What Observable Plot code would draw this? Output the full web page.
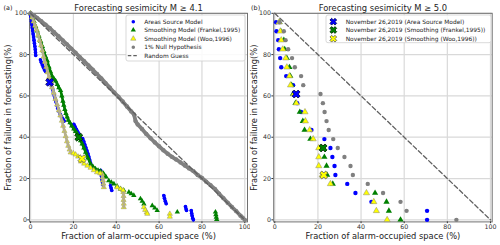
<!DOCTYPE html>
<html><head><meta charset="utf-8">
<script src="https://cdn.jsdelivr.net/npm/d3@7"></script>
<script src="https://cdn.jsdelivr.net/npm/@observablehq/plot@0.6"></script>
<style>
body{margin:0;background:#fff;}
#wrap{display:flex;width:500px;height:245px;overflow:hidden;}
#wrap svg{display:block;flex:none;}
</style></head><body><div id="wrap"></div>
<script>
// ---------- Panel (a): Forecasting sesimicity M >= 4.1 ----------
// [alarm-occupied space %, failure in forecasting %]
const aAreaRuns = [
  [[0,99],[0.2,97.5],[0.4,96],[0.6,94.5],[0.8,93],[1.0,91.5],[1.2,90],[1.4,88.5],[1.6,87],[1.8,85.5],[2.0,84],[2.2,82.5],[2.3,81],[2.4,79.6]],
  [[4.6,77.5],[5.0,76.3],[5.5,75],[6.0,73.8],[6.5,72.6],[7.0,71.8]],
  [[8.8,67.5],[9.3,66],[9.8,64.5],[10.3,63],[10.7,61.5],[11.1,60],[11.5,58.5],[11.9,57],[12.3,55.5],[12.7,54],[13.3,52.5],[13.9,51],[14.5,49.8],[15.1,48.8],[15.7,47.8]],
  [[20.2,46.3],[20.8,45],[21.4,43.8],[22,42.6],[22.6,41.5]],
  [[24.3,39.4],[24.8,38],[25.3,36.5],[25.8,35],[26.3,33.5],[26.8,32],[27.2,30.5],[27.6,29],[28,27.5],[28.5,26.2],[29,25.3]],
  [[32.7,24],[32.9,22.5],[33.1,21],[33.3,19.5],[33.6,18],[33.9,16.8]],
  [[37.3,16.6],[37.6,15.4],[37.9,14.2]],
  [[62.2,11.8],[62.5,10.4],[62.9,9],[63.3,7.8]],
  [[72.3,6.4],[72.6,5.2],[72.8,4.5]],
  [[75,4.5],[75.2,3.2],[75.4,2],[75.7,0.8],[76,0]]
];
const aFrankelRuns = [
  [[0,100],[0.8,98],[1.6,96],[2.4,93.5],[3.1,91.5],[3.9,89],[4.7,86.5],[5.5,84],[6.2,81.5],[7,79],[7.8,77],[8.6,74],[9.3,71.7],[10.1,69.5],[10.9,68.3],[11.7,67.3],[12.5,65.5],[13.2,64],[14,62.6],[14.6,60],[15.1,57.5],[15.5,55.5],[16,53.5],[16.5,51.5],[17.1,49.8],[17.6,48.3],[18.4,47],[19.2,45.5],[20.2,44],[21,42.8],[21.8,41.6],[22.5,40],[23.3,38.3],[24.1,36.8],[24.9,34.8],[25.7,32.7],[26.8,30],[28,27.1],[29.2,25.6],[30.3,24.7],[31.5,24],[32.7,23.5],[34,22.5],[35.2,20.8]]
];
const aFrankelPoints = [[36.5,19],[37.7,18.2],[38.9,17.4],[40.4,16.3],[42,15],[43.5,14.3],[45.9,13.4],[47,12.6],[48.2,11.8],[51.3,10.2],[52.1,9],[52.9,7.7],[56.8,6.9],[58,5.7],[59.1,4.5],[68.5,3.8],[86.3,3.8],[86.5,2.5],[86.7,1.3],[86.9,0.2]];
const aWooRuns = [
  [[0,100],[0.7,98],[1.4,96],[2.1,94],[2.8,92],[3.5,89.5],[4.2,87],[4.9,84.5],[5.5,82],[6.1,79],[6.7,76.5],[7.3,74],[7.9,71.5],[8.6,69],[9.3,66.8],[10,64.2],[10.8,61.5],[11.6,58.5],[12.4,55.8],[13.2,53],[13.9,50.5],[14.6,48],[15.2,45.5],[15.8,43],[16.4,40.5],[17,38],[17.6,35.8],[18.2,34],[18.7,32.6]],
  [[33.4,22.2],[33.6,20.5],[33.8,19],[34,17.5],[34.2,15.8]],
  [[43.3,13.4],[43.4,11.5],[43.4,9.6],[43.5,7.8],[43.5,6.1]]
];
const aWooPoints = [[20,32.2],[21,31.6],[22.2,30.6],[23.5,28.2],[25,27.2],[26.5,26.2],[28,25.2],[29.5,24],[31,23],[32.5,22.5],[40.4,15.8],[42,15],[43.2,14.3],[52.9,6.1],[53.5,4.8],[54.2,3.6],[54.5,2.9],[65,2.9],[65,1.5]];
const aNullRuns = [
  [[0,100],[1.5,99],[3,97.8],[5,96.2],[7,94.5],[9,92.8],[11,90.8],[13,88.9],[15,86.9],[17,84.9],[19,82.9],[21,80.9],[23,78.8],[25,76.8],[27,74.8],[29,72.7],[31,70.6],[33,68.5],[35,66.2],[37,64],[39,61.7],[41,59.6],[43,57.3],[45,54.9],[47,52.5],[48.3,51],[49,47.8],[50,46.2],[52,44],[54,41.6],[56,39.5],[58,37.5],[60,35.6],[62,33.7],[64,32],[66,30.5],[68,29.2],[70,27.8],[72,26.3],[74,24.9],[76,23.6],[78,21.7],[80,20.3],[82,18.5],[84,16.8],[86,15],[88,12.6],[90,10.5],[92,8.3],[94,6.2],[96,4.2],[98,2],[99,1],[100,0]]
];
const aEventX = [8.9, 22.5, 24.0];
const aEventY = [66.6, 40.0, 29.6];

// ---------- Panel (b): Forecasting sesimicity M >= 5.0 ----------
const bFailure  = [95.65, 91.3, 87.0, 82.6, 78.3, 73.9, 69.6, 65.2, 60.9, 56.5, 52.2, 47.8, 43.5, 39.1, 34.8, 30.4, 26.1, 21.7, 17.4, 13.0, 8.7, 4.35, 0];
const bAreaX    = [0.6, 0.8, 1.6, 1.9, 2.5, 3.0, 5.3, 8.5, 9.9, 10.4, 12.2, 13.5, 17.0, 23.0, 25.8, 26.7, 27.7, 28.1, 33.6, 37.4, 44.8, 70.6, 70.6];
const bFrankelX = [2.2, 2.8, 4.2, 4.6, 5.6, 6.8, 7.2, 7.8, 8.4, 9.6, 11.6, 13.0, 13.8, 16.5, 22.4, 23.0, 24.0, 24.3, 26.9, 46.5, 51.8, 52.9, 58.3];
const bWooX     = [2.0, 2.6, 3.0, 3.7, 5.1, 5.6, 6.8, 7.3, 8.8, 10.0, 14.0, 14.2, 16.2, 17.8, 20.4, 20.4, 20.4, 22.0, 25.8, 42.5, 45.9, 47.1, 52.1];
const bNullX    = [2.2, 4.2, 5.0, 6.2, 8.0, 9.3, 12.2, 13.2, 21.2, 22.3, 23.1, 24.0, 25.0, 27.1, 29.2, 32.3, 35.1, 36.2, 43.1, 50.2, 58.3, 61.1, 84.2];
const bEventX = [9.9, 22.4, 22.7];
const bEventY = [60.9, 34.8, 21.7];

const randomX = [0, 100];
const randomY = [100, 0];
const ticks = [0, 20, 40, 60, 80, 100];

const eventFill   = ["#0000ff", "#008000", "#ffff00"];
const eventStroke = ["#00004a", "#002000", "#555555"];

const FONT = "DejaVu Sans";

// filled "X" marker like matplotlib
const xSymbol = {
  draw(ctx, size) {
    const s = Math.sqrt(size / Math.PI), t = s * 0.34, c = Math.SQRT1_2;
    const pts = [[t,-s],[t,-t],[s,-t],[s,t],[t,t],[t,s],[-t,s],[-t,t],[-s,t],[-s,-t],[-t,-t],[-t,-s]];
    pts.forEach(([x, y], i) => { const X = (x - y) * c, Y = (x + y) * c; i ? ctx.lineTo(X, Y) : ctx.moveTo(X, Y); });
    ctx.closePath();
  }
};

const flatRuns = runs => runs.flatMap((r, i) => r.map(([x, y]) => ({x, y, seg: i})));
const pts = arr => arr.map(([x, y]) => ({x, y}));
const zipXY = (xs, ys) => xs.map((x, i) => ({x, y: ys[i]}));

function frameMarks(title, tag, ylabDx, tagDx) {
  return [
    Plot.gridX(ticks, {stroke: "#d9d9d9", strokeOpacity: 1, strokeWidth: 1.2}),
    Plot.gridY(ticks, {stroke: "#d9d9d9", strokeOpacity: 1, strokeWidth: 1.2}),
    Plot.frame({stroke: "#707070", strokeWidth: 1}),
    Plot.axisX({ticks, tickFormat: d => d, tickSize: 1.8, tickPadding: 0.8, fontSize: 6.3, label: null, color: "#333"}),
    Plot.axisY({ticks, tickFormat: d => d, tickSize: 1.8, tickPadding: 0.8, fontSize: 6.3, label: null, color: "#333"}),
    Plot.text([title], {text: d => d, frameAnchor: "top", dy: -2.2, lineAnchor: "bottom", fontSize: 8.4, fill: "#222"}),
    Plot.text(["Fraction of alarm-occupied space (%)"], {text: d => d, frameAnchor: "bottom", dy: 14.9, lineAnchor: "middle", fontSize: 8.3, fill: "#222"}),
    Plot.text(["Fraction of failure in forecasting(%)"], {text: d => d, frameAnchor: "left", dx: ylabDx, rotate: -90, lineAnchor: "middle", textAnchor: "middle", fontSize: 8.3, fill: "#222"}),
    Plot.text([tag], {text: d => d, frameAnchor: "top-left", dx: tagDx, dy: -3.6, lineAnchor: "bottom", textAnchor: "start", fontSize: 6.4, fill: "#222"})
  ];
}

function eventMarks(xs, ys, r) {
  return xs.map((x, i) => Plot.dot([{x, y: ys[i]}], {x: "x", y: "y", symbol: xSymbol, r, fill: eventFill[i], stroke: eventStroke[i], strokeWidth: 0.8}));
}

function legend(svg, box, mx, tx, rows, items) {
  const g = d3.select(svg).append("g").attr("font-family", FONT).attr("font-size", 5.9).attr("text-anchor", "start");
  g.append("rect").attr("x", box[0]).attr("y", box[1]).attr("width", box[2]).attr("height", box[3])
    .attr("rx", 2).attr("fill", "white").attr("fill-opacity", 0.85).attr("stroke", "#cfcfcf").attr("stroke-width", 0.8);
  items.forEach((it, i) => {
    const cy = rows[i];
    if (it.kind === "dash") {
      g.append("line").attr("x1", mx - 5.5).attr("x2", mx + 5.5).attr("y1", cy).attr("y2", cy)
        .attr("stroke", it.stroke).attr("stroke-width", 1.2).attr("stroke-dasharray", "3.5,2");
    } else {
      g.append("path").attr("transform", `translate(${mx},${cy})`).attr("d", d3.symbol(it.symbol, it.size)())
        .attr("fill", it.fill).attr("stroke", it.stroke || "none").attr("stroke-width", it.sw || 0);
    }
    g.append("text").attr("x", tx).attr("y", cy).attr("dy", "0.35em").attr("text-anchor", "start").attr("fill", "#222").text(it.label);
  });
}

const wooFill = "#ffff00", wooEdge = "#8a8a70", wooLine = "#b5af8c";

// ----- Panel a -----
const A = Plot.plot({
  width: 250, height: 245,
  marginLeft: 29, marginRight: 3, marginTop: 12.8, marginBottom: 23.6,
  x: {domain: [-0.5, 101.26]},
  y: {domain: [-1, 100]},
  style: {fontFamily: FONT, background: "white", overflow: "visible"},
  marks: [
    ...frameMarks("Forecasting sesimicity M ≥ 4.1", "(a)", -20.7, -26),
    Plot.line(flatRuns(aAreaRuns), {x: "x", y: "y", z: "seg", stroke: "#0000ff", strokeWidth: 3, strokeLinecap: "round"}),
    Plot.dot(flatRuns(aAreaRuns), {x: "x", y: "y", r: 1.8, fill: "#0000ff"}),
    Plot.line(flatRuns(aFrankelRuns), {x: "x", y: "y", z: "seg", stroke: "#008000", strokeWidth: 2.6, strokeLinecap: "round"}),
    Plot.dot([...flatRuns(aFrankelRuns), ...pts(aFrankelPoints)], {x: "x", y: "y", r: 2, symbol: "triangle", fill: "#008000"}),
    Plot.dot(flatRuns(aWooRuns), {x: "x", y: "y", r: 1.9, symbol: "triangle", fill: wooFill, stroke: wooEdge, strokeWidth: 0.5}),
    Plot.line(flatRuns(aWooRuns), {x: "x", y: "y", z: "seg", stroke: wooLine, strokeWidth: 2.6, strokeLinecap: "round"}),
    Plot.dot(pts(aWooPoints), {x: "x", y: "y", r: 1.9, symbol: "triangle", fill: wooFill, stroke: wooEdge, strokeWidth: 0.5}),
    Plot.line(flatRuns(aNullRuns), {x: "x", y: "y", z: "seg", stroke: "#808080", strokeWidth: 3.8, strokeLinecap: "round"}),
    Plot.dot(flatRuns(aNullRuns), {x: "x", y: "y", r: 2.2, fill: "#808080"}),
    Plot.line(zipXY(randomX, randomY), {x: "x", y: "y", stroke: "#606060", strokeWidth: 1.3, strokeDasharray: "4.5,2.6"}),
    ...eventMarks(aEventX, aEventY, 4.2)
  ]
});

// ----- Panel b -----
const B = Plot.plot({
  width: 250, height: 245,
  marginLeft: 23.2, marginRight: 8.3, marginTop: 12.8, marginBottom: 23.6,
  x: {domain: [-0.5, 100.8]},
  y: {domain: [-1, 100]},
  style: {fontFamily: FONT, background: "white", overflow: "visible"},
  marks: [
    ...frameMarks("Forecasting sesimicity M ≥ 5.0", "(b)", -19.6, -22.6),
    Plot.line(zipXY(randomX, randomY), {x: "x", y: "y", stroke: "#606060", strokeWidth: 1.3, strokeDasharray: "4.5,2.6"}),
    Plot.dot(zipXY(bAreaX, bFailure), {x: "x", y: "y", r: 2.2, fill: "#0000ff"}),
    Plot.dot(zipXY(bFrankelX, bFailure), {x: "x", y: "y", r: 2.3, symbol: "triangle", fill: "#008000"}),
    Plot.dot(zipXY(bWooX, bFailure), {x: "x", y: "y", r: 2.3, symbol: "triangle", fill: wooFill, stroke: wooEdge, strokeWidth: 0.5}),
    Plot.dot(zipXY(bNullX, bFailure), {x: "x", y: "y", r: 2.2, fill: "#808080"}),
    ...eventMarks(bEventX, bEventY, 4.2)
  ]
});

legend(A, [126, 15, 119, 46], 133.3, 144.3, [21.7, 30, 38.7, 47.3, 55.7], [
  {symbol: d3.symbolCircle, size: 10, fill: "#0000ff", label: "Areas Source Model"},
  {symbol: d3.symbolTriangle, size: 12, fill: "#008000", label: "Smoothing Model (Frankel,1995)"},
  {symbol: d3.symbolTriangle, size: 12, fill: wooFill, stroke: wooEdge, sw: 0.5, label: "Smoothing Model (Woo,1996)"},
  {symbol: d3.symbolCircle, size: 10, fill: "#808080", label: "1% Null Hypothesis"},
  {kind: "dash", stroke: "#606060", label: "Random Guess"}
]);

legend(B, [76, 15, 165, 27.7], 83.3, 95.7, [21.7, 30, 38.7], [
  {symbol: xSymbol, size: 40, fill: eventFill[0], stroke: eventStroke[0], sw: 0.8, label: "November 26,2019 (Area Source Model)"},
  {symbol: xSymbol, size: 40, fill: eventFill[1], stroke: eventStroke[1], sw: 0.8, label: "November 26,2019 (Smoothing (Frankel,1995))"},
  {symbol: xSymbol, size: 40, fill: eventFill[2], stroke: eventStroke[2], sw: 0.8, label: "November 26,2019 (Smoothing (Woo,1996))"}
]);

document.getElementById("wrap").append(A, B);
</script></body></html>
